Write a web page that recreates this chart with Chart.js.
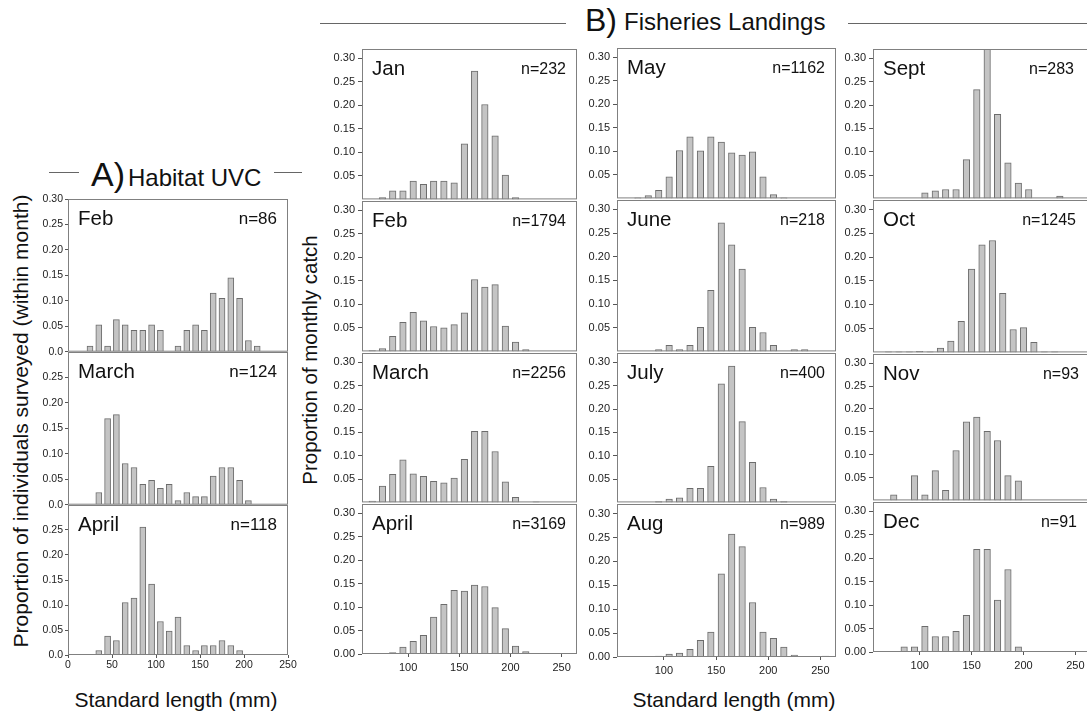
<!DOCTYPE html>
<html>
<head>
<meta charset="utf-8">
<title>Length frequency by month</title>
<script src="https://cdn.jsdelivr.net/npm/chart.js@4.4.0/dist/chart.umd.min.js"></script>
<style>
  html, body { margin: 0; padding: 0; background: #fff; overflow: hidden; width: 1087px; height: 713px; }
  body { position: relative; font-family: "Liberation Sans", Arial, sans-serif; color: #111; }
  .txt { position: absolute; white-space: nowrap; line-height: 1; }
  .rule { position: absolute; height: 0; border-top: 1px solid #666; }
  .ytitle { position: absolute; white-space: nowrap; line-height: 1; transform: translate(-50%, -50%) rotate(-90deg); }
</style>
</head>
<body>

<!-- section headers -->
<div class="rule" style="left:320px; top:23px; width:246px;"></div>
<div class="rule" style="left:848px; top:23px; width:239px;"></div>
<div class="txt" style="left:585px; top:4px; font-size:32px;">B)</div>
<div class="txt" style="left:624px; top:10px; font-size:24px;">Fisheries Landings</div>

<div class="rule" style="left:49px; top:172px; width:30px;"></div>
<div class="rule" style="left:274px; top:172px; width:28px;"></div>
<div class="txt" style="left:91px; top:157px; font-size:34px;">A)</div>
<div class="txt" style="left:128px; top:166px; font-size:24px;">Habitat UVC</div>

<!-- axis titles -->
<div class="ytitle" style="left:20px; top:421px; font-size:21px;">Proportion of individuals surveyed (within month)</div>
<div class="ytitle" style="left:310px; top:360px; font-size:20.5px;">Proportion of monthly catch</div>
<div class="txt" style="left:176px; top:689px; font-size:21px; transform:translateX(-50%);">Standard length (mm)</div>
<div class="txt" style="left:734px; top:689px; font-size:21px; transform:translateX(-50%);">Standard length (mm)</div>

<script>
// A) habitat underwater census, length-bin centres (mm) and proportions
const uvcMonths = ['Feb', 'March', 'April'];
const uvcCounts = [86, 124, 118];
const uvcFebBins = [25, 35, 45, 55, 65, 75, 85, 95, 105, 125, 135, 145, 155, 165, 175, 185, 195, 205, 215];
const uvcFebShare = [0.011, 0.053, 0.011, 0.063, 0.053, 0.042, 0.042, 0.053, 0.042, 0.011, 0.042, 0.053, 0.042, 0.115, 0.105, 0.145, 0.105, 0.022, 0.011];
const uvcMarBins = [35, 45, 55, 65, 75, 85, 95, 105, 115, 125, 135, 145, 155, 165, 175, 185, 195, 205];
const uvcMarShare = [0.024, 0.169, 0.177, 0.081, 0.073, 0.040, 0.048, 0.032, 0.040, 0.008, 0.024, 0.016, 0.016, 0.056, 0.073, 0.073, 0.048, 0.008];
const uvcAprBins = [35, 45, 55, 65, 75, 85, 95, 105, 115, 125, 135, 145, 155, 165, 175, 185, 195];
const uvcAprShare = [0.009, 0.038, 0.029, 0.105, 0.114, 0.256, 0.142, 0.067, 0.048, 0.076, 0.019, 0.009, 0.019, 0.019, 0.029, 0.019, 0.009];

// B) fisheries landings
const catchMonths = ['Jan', 'Feb', 'March', 'April', 'May', 'June', 'July', 'Aug', 'Sept', 'Oct', 'Nov', 'Dec'];
const catchCounts = [232, 1794, 2256, 3169, 1162, 218, 400, 989, 283, 1245, 93, 91];
const catchJanBins = [75, 85, 95, 105, 115, 125, 135, 145, 155, 165, 175, 185, 195, 205];
const catchJanShare = [0.004, 0.018, 0.018, 0.039, 0.032, 0.039, 0.039, 0.035, 0.118, 0.273, 0.202, 0.135, 0.052, 0.004];
const catchFebBins = [65, 75, 85, 95, 105, 115, 125, 135, 145, 155, 165, 175, 185, 195, 205, 215];
const catchFebShare = [0.002, 0.006, 0.032, 0.062, 0.083, 0.065, 0.053, 0.050, 0.057, 0.082, 0.153, 0.137, 0.142, 0.054, 0.020, 0.004];
const catchMarBins = [65, 75, 85, 95, 105, 115, 125, 135, 145, 155, 165, 175, 185, 195, 205, 225];
const catchMarShare = [0.003, 0.035, 0.060, 0.091, 0.061, 0.056, 0.045, 0.042, 0.052, 0.092, 0.152, 0.152, 0.109, 0.044, 0.011, 0.001];
const catchAprBins = [75, 85, 95, 105, 115, 125, 135, 145, 155, 165, 175, 185, 195, 205, 215, 225, 235];
const catchAprShare = [0.001, 0.003, 0.015, 0.027, 0.040, 0.079, 0.106, 0.136, 0.134, 0.147, 0.144, 0.099, 0.054, 0.017, 0.005, 0.001, 0.001];
const catchMayBins = [75, 85, 95, 105, 115, 125, 135, 145, 155, 165, 175, 185, 195, 205, 215];
const catchMayShare = [0.001, 0.006, 0.017, 0.046, 0.102, 0.131, 0.101, 0.131, 0.120, 0.097, 0.092, 0.099, 0.046, 0.008, 0.001];
const catchJunBins = [95, 105, 115, 125, 135, 145, 155, 165, 175, 185, 195, 205, 225, 235];
const catchJunShare = [0.004, 0.013, 0.004, 0.013, 0.051, 0.129, 0.272, 0.225, 0.174, 0.051, 0.040, 0.013, 0.004, 0.004];
const catchJulBins = [95, 105, 115, 125, 135, 145, 155, 165, 175, 185, 195, 205, 215];
const catchJulShare = [0.002, 0.007, 0.010, 0.030, 0.030, 0.077, 0.254, 0.292, 0.173, 0.086, 0.032, 0.007, 0.002];
const catchAugBins = [95, 105, 115, 125, 135, 145, 155, 165, 175, 185, 195, 205, 215, 225, 235, 255];
const catchAugShare = [0.002, 0.006, 0.008, 0.016, 0.035, 0.052, 0.174, 0.257, 0.231, 0.114, 0.052, 0.039, 0.021, 0.004, 0.001, 0.002];
const catchSepBins = [105, 115, 125, 135, 145, 155, 165, 175, 185, 195, 205, 235];
const catchSepShare = [0.012, 0.016, 0.019, 0.019, 0.083, 0.233, 0.330, 0.180, 0.076, 0.033, 0.019, 0.005];
const catchOctBins = [70, 80, 90, 100, 110, 120, 130, 140, 150, 160, 170, 180, 190, 200, 210, 220, 230];
const catchOctShare = [0.001, 0.001, 0.001, 0.002, 0.001, 0.009, 0.024, 0.065, 0.175, 0.226, 0.235, 0.124, 0.048, 0.052, 0.021, 0.001, 0.001];
const catchNovBins = [75, 95, 105, 115, 125, 135, 145, 155, 165, 175, 185, 195];
const catchNovShare = [0.012, 0.054, 0.012, 0.065, 0.022, 0.109, 0.172, 0.182, 0.151, 0.131, 0.054, 0.043];
const catchDecBins = [85, 95, 105, 115, 125, 135, 145, 155, 165, 175, 185, 195];
const catchDecShare = [0.011, 0.011, 0.055, 0.033, 0.033, 0.044, 0.078, 0.219, 0.219, 0.111, 0.176, 0.011];

// tick values
const uvcLengthTicks = [0, 50, 100, 150, 200, 250];
const catchLengthTicks = [100, 150, 200, 250];
const shareTicks = [0, 0.05, 0.10, 0.15, 0.20, 0.25, 0.30];
const shareTicksLower = [0, 0.05, 0.10, 0.15, 0.20, 0.25];   // stacked A panels drop the 0.30 label

const FONT = '"Liberation Sans", Arial, sans-serif';

// column settings
const colA = { xMin: 0, xMax: 250, yMax: 0.30, xTicks: uvcLengthTicks, tickSize: 10.5, nSize: 17, bar: 6, nInset: 11, zero: '0.0' };
const colB = { xMin: 55, xMax: 265, yMax: 0.32, xTicks: catchLengthTicks, tickSize: 11, nSize: 16, bar: 6.5, nInset: 11, zero: '0.00' };

// panel boxes [left, top, right, bottom] of the plotting frame
const panels = [
  { col: colA, month: uvcMonths[0], n: uvcCounts[0], bins: uvcFebBins, share: uvcFebShare, box: [68, 199, 288, 352], bottom: false, yTicks: shareTicks },
  { col: colA, month: uvcMonths[1], n: uvcCounts[1], bins: uvcMarBins, share: uvcMarShare, box: [68, 352, 288, 505], bottom: false, yTicks: shareTicksLower },
  { col: colA, month: uvcMonths[2], n: uvcCounts[2], bins: uvcAprBins, share: uvcAprShare, box: [68, 505, 288, 655], bottom: true, yTicks: shareTicksLower },

  { col: colB, month: catchMonths[0], n: catchCounts[0], bins: catchJanBins, share: catchJanShare, box: [362, 49, 577, 201], bottom: false },
  { col: colB, month: catchMonths[1], n: catchCounts[1], bins: catchFebBins, share: catchFebShare, box: [362, 201, 577, 353], bottom: false },
  { col: colB, month: catchMonths[2], n: catchCounts[2], bins: catchMarBins, share: catchMarShare, box: [362, 353, 577, 504], bottom: false },
  { col: colB, month: catchMonths[3], n: catchCounts[3], bins: catchAprBins, share: catchAprShare, box: [362, 504, 577, 654], bottom: true },

  { col: colB, month: catchMonths[4], n: catchCounts[4], bins: catchMayBins, share: catchMayShare, box: [617, 48, 836, 200], bottom: false },
  { col: colB, month: catchMonths[5], n: catchCounts[5], bins: catchJunBins, share: catchJunShare, box: [617, 200, 836, 353], bottom: false },
  { col: colB, month: catchMonths[6], n: catchCounts[6], bins: catchJulBins, share: catchJulShare, box: [617, 353, 836, 504], bottom: false },
  { col: colB, month: catchMonths[7], n: catchCounts[7], bins: catchAugBins, share: catchAugShare, box: [617, 504, 836, 657], bottom: true },

  { col: colB, month: catchMonths[8], n: catchCounts[8], bins: catchSepBins, share: catchSepShare, box: [873, 49, 1091, 200], bottom: false, inset: 17 },
  { col: colB, month: catchMonths[9], n: catchCounts[9], bins: catchOctBins, share: catchOctShare, box: [873, 200, 1091, 354], bottom: false, inset: 15 },
  { col: colB, month: catchMonths[10], n: catchCounts[10], bins: catchNovBins, share: catchNovShare, box: [873, 354, 1091, 502], bottom: false, inset: 12 },
  { col: colB, month: catchMonths[11], n: catchCounts[11], bins: catchDecBins, share: catchDecShare, box: [873, 502, 1091, 652], bottom: true, inset: 14 }
];

// month name, sample size and the frame around each panel
const panelText = {
  id: 'panelText',
  afterDraw(chart, args, opts) {
    const { ctx, chartArea: a } = chart;
    ctx.save();
    ctx.strokeStyle = '#808080';
    ctx.lineWidth = 1;
    ctx.strokeRect(a.left + 0.5, a.top + 0.5, a.width - 1, a.height - 1);
    ctx.fillStyle = '#111';
    ctx.textBaseline = 'alphabetic';
    ctx.font = '20.5px ' + FONT;
    ctx.textAlign = 'left';
    ctx.fillText(opts.month, a.left + 10, a.top + 26);
    ctx.font = opts.nSize + 'px ' + FONT;
    ctx.textAlign = 'right';
    ctx.fillText('n=' + opts.n, a.right - opts.nInset, a.top + 25);
    ctx.restore();
  }
};

function drawPanel(p) {
  const c = p.col;
  const yw = 36, padL = 2, padT = 10, padR = 16, padB = 8;
  const xh = p.bottom ? 22 : 0;
  const [x0, y0, x1, y1] = p.box;
  const left = x0 - yw - padL;
  const top = y0 - padT;
  const width = x1 - left + padR;
  const height = y1 - top + xh + padB;

  const canvas = document.createElement('canvas');
  canvas.width = width;
  canvas.height = height;
  canvas.style.cssText = `position:absolute;left:${left}px;top:${top}px;width:${width}px;height:${height}px;`;
  document.body.appendChild(canvas);

  const showZero = c === colA || p.bottom;
  const yTicks = p.yTicks || shareTicks;

  new Chart(canvas.getContext('2d'), {
    type: 'bar',
    data: {
      datasets: [{
        data: p.bins.map((b, i) => ({ x: b, y: p.share[i] })),
        backgroundColor: '#c4c4c4',
        borderColor: '#6c6c6c',
        borderWidth: 1,
        barThickness: c.bar
      }]
    },
    options: {
      responsive: false,
      animation: false,
      devicePixelRatio: 1,
      layout: { padding: { left: padL, top: padT, right: padR, bottom: padB } },
      plugins: {
        legend: { display: false },
        tooltip: { enabled: false },
        panelText: { month: p.month, n: p.n, nSize: c.nSize, nInset: p.inset || c.nInset }
      },
      scales: {
        x: {
          type: 'linear',
          min: c.xMin,
          max: c.xMax,
          offset: false,
          afterBuildTicks: s => { s.ticks = c.xTicks.map(v => ({ value: v })); },
          afterFit: s => { s.height = xh; },
          border: { display: false },
          grid: { display: p.bottom, offset: false, drawOnChartArea: false, tickLength: 3, color: '#555' },
          ticks: {
            display: p.bottom,
            autoSkip: false,
            maxRotation: 0,
            padding: c === colA ? 1 : 4,
            color: '#222',
            font: { family: FONT, size: c.tickSize }
          }
        },
        y: {
          min: 0,
          max: c.yMax,
          afterBuildTicks: s => { s.ticks = yTicks.map(v => ({ value: v })); },
          afterFit: s => { s.width = yw; },
          border: { display: false },
          grid: { drawOnChartArea: false, tickLength: c === colA ? 3 : 4, color: '#555' },
          ticks: {
            autoSkip: false,
            padding: c === colA ? 2 : 3,
            color: '#222',
            font: { family: FONT, size: c.tickSize },
            callback: v => v === 0 ? (showZero ? c.zero : null) : v.toFixed(2)
          }
        }
      }
    },
    plugins: [panelText]
  });
}

panels.forEach(drawPanel);
</script>
</body>
</html>
